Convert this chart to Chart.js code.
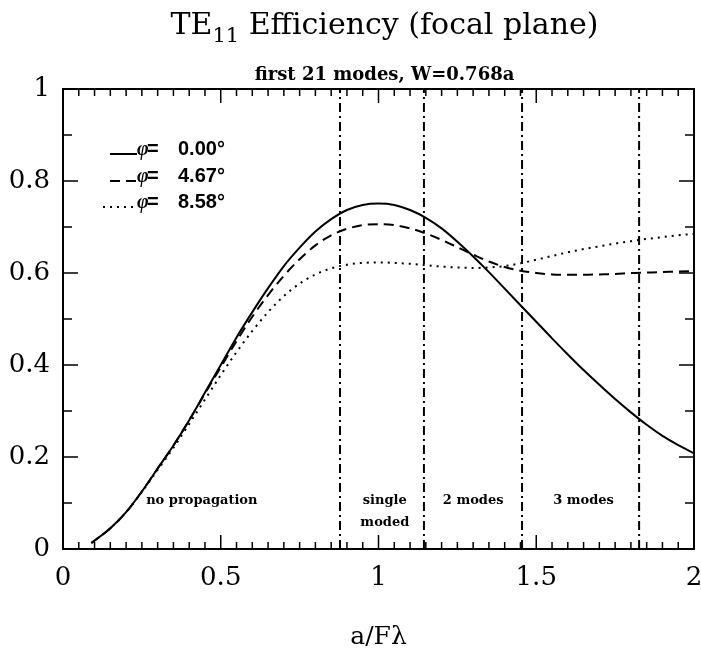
<!DOCTYPE html>
<html>
<head>
<meta charset="utf-8">
<script src="https://cdn.jsdelivr.net/npm/chart.js@4.4.0/dist/chart.umd.min.js"></script>
<style>
  html, body { margin: 0; padding: 0; background: #fff; }
</style>
</head>
<body>
<canvas id="te11-chart" width="701" height="653"></canvas>
<script>
// a/F lambda sample points
const xVals = [0.09, 0.15, 0.2, 0.25, 0.3, 0.35, 0.4, 0.45, 0.5, 0.55, 0.6, 0.65, 0.7, 0.75, 0.8,
  0.85, 0.9, 0.95, 1.0, 1.05, 1.1, 1.15, 1.2, 1.25, 1.3, 1.35, 1.4, 1.45, 1.5, 1.55, 1.6,
  1.65, 1.7, 1.75, 1.8, 1.85, 1.9, 1.95, 2.0];

// efficiency, phi = 0.00 deg (solid)
const phi000 = [0.013, 0.045, 0.08, 0.125, 0.175, 0.225, 0.28, 0.34, 0.40, 0.46, 0.515,
  0.567, 0.615, 0.655, 0.69, 0.717, 0.737, 0.748, 0.751, 0.748, 0.737, 0.72, 0.697, 0.668,
  0.636, 0.602, 0.566, 0.53, 0.494, 0.458, 0.423, 0.389, 0.357, 0.326, 0.297, 0.27, 0.246,
  0.226, 0.208];

// phi = 4.67 deg (dashed)
const phi467 = [0.013, 0.045, 0.08, 0.125, 0.175, 0.225, 0.28, 0.338, 0.395, 0.452, 0.505,
  0.552, 0.594, 0.63, 0.66, 0.682, 0.696, 0.704, 0.706, 0.704, 0.697, 0.686, 0.672, 0.656,
  0.64, 0.625, 0.613, 0.605, 0.6, 0.597, 0.596, 0.596, 0.597, 0.598, 0.6, 0.601, 0.602,
  0.603, 0.604];

// phi = 8.58 deg (dotted)
const phi858 = [0.013, 0.045, 0.08, 0.124, 0.172, 0.22, 0.272, 0.325, 0.378, 0.428, 0.474,
  0.515, 0.55, 0.577, 0.597, 0.61, 0.618, 0.622, 0.623, 0.622, 0.62, 0.617, 0.614, 0.612,
  0.611, 0.612, 0.615, 0.621, 0.629, 0.637, 0.645, 0.652, 0.658, 0.664, 0.669, 0.674,
  0.678, 0.682, 0.685];

const seriesNames = ["0.00°", "4.67°", "8.58°"];

// mode cutoffs (dash-dot lines)
const cutoffs = [0.878, 1.144, 1.455, 1.826];

// region labels
const regionText = [["no propagation"], ["single", "moded"], ["2 modes"], ["3 modes"]];
const regionX = [0.44, 1.02, 1.30, 1.65];
const regionY = 0.105;

const xTicks = [0, 0.5, 1, 1.5, 2];
const yTicks = [0, 0.2, 0.4, 0.6, 0.8, 1];

const serif = "'DejaVu Serif', 'Liberation Serif', serif";

function pts(ys) {
  return xVals.map((x, i) => ({ x: x, y: ys[i] }));
}

const styles = [[], [10, 6], [2, 5]];

const datasets = [phi000, phi467, phi858].map((ys, i) => ({
  label: seriesNames[i],
  data: pts(ys),
  borderColor: "#000",
  borderWidth: 2,
  borderDash: styles[i],
  pointRadius: 0,
  cubicInterpolationMode: "monotone",
}));

cutoffs.forEach(c => {
  datasets.push({
    label: "cutoff",
    data: [{ x: c, y: 0 }, { x: c, y: 1 }],
    borderColor: "#000",
    borderWidth: 2,
    borderDash: [9, 4, 2, 4],
    pointRadius: 0,
  });
});

// frame, inward ticks, titles, legend, region text
const decorations = {
  id: "decorations",
  afterDraw(chart) {
    const { ctx, chartArea: a, scales: { x, y } } = chart;
    ctx.save();
    ctx.strokeStyle = "#000";
    ctx.fillStyle = "#000";
    ctx.lineWidth = 2;
    ctx.setLineDash([]);
    ctx.strokeRect(a.left, a.top, a.right - a.left, a.bottom - a.top);

    ctx.lineWidth = 1.5;
    ctx.beginPath();
    for (let i = 0; i <= 40; i++) {
      const px = x.getPixelForValue(i * 0.05);
      const len = i % 10 === 0 ? 14 : 7;
      ctx.moveTo(px, a.bottom); ctx.lineTo(px, a.bottom - len);
      ctx.moveTo(px, a.top); ctx.lineTo(px, a.top + len);
    }
    for (let i = 0; i <= 10; i++) {
      const py = y.getPixelForValue(i * 0.1);
      const len = i % 2 === 0 ? 15 : 9;
      ctx.moveTo(a.left, py); ctx.lineTo(a.left + len, py);
      ctx.moveTo(a.right, py); ctx.lineTo(a.right - len, py);
    }
    ctx.stroke();

    // title with subscript
    const cx = (a.left + a.right) / 2 + 6;
    const t1 = "TE", sub = "11", t2 = " Efficiency (focal plane)";
    ctx.font = "30px " + serif;
    const w1 = ctx.measureText(t1).width, w2 = ctx.measureText(t2).width;
    ctx.font = "21px " + serif;
    const ws = ctx.measureText(sub).width;
    let tx = cx - (w1 + ws + w2) / 2;
    ctx.textBaseline = "alphabetic";
    ctx.textAlign = "left";
    ctx.font = "30px " + serif;
    ctx.fillText(t1, tx, 34);
    ctx.font = "21px " + serif;
    ctx.fillText(sub, tx + w1, 42);
    ctx.font = "30px " + serif;
    ctx.fillText(t2, tx + w1 + ws, 34);

    ctx.font = "bold 18px " + serif;
    ctx.textAlign = "center";
    ctx.fillText("first 21 modes, W=0.768a", cx, 80);

    // legend
    const rowsY = [155, 182, 208];
    ctx.lineWidth = 2;
    ctx.textAlign = "left";
    seriesNames.forEach((name, i) => {
      ctx.setLineDash(styles[i]);
      ctx.beginPath();
      ctx.moveTo(i === 2 ? 103 : 110, rowsY[i] - 1);
      ctx.lineTo(137, rowsY[i] - 1);
      ctx.stroke();
      ctx.setLineDash([]);
      ctx.font = "italic bold 20px 'Liberation Serif', serif";
      ctx.fillText("φ", 137, rowsY[i]);
      ctx.font = "bold 20px 'Liberation Sans', sans-serif";
      ctx.fillText("=", 147, rowsY[i]);
      ctx.fillText(name, 178, rowsY[i]);
    });

    // region labels
    ctx.font = "bold 13px " + serif;
    ctx.textAlign = "center";
    ctx.textBaseline = "middle";
    regionText.forEach((lines, i) => {
      const px = x.getPixelForValue(regionX[i]);
      const py = y.getPixelForValue(regionY);
      lines.forEach((s, k) => ctx.fillText(s, px, py + k * 22));
    });
    ctx.restore();
  }
};

new Chart(document.getElementById("te11-chart"), {
  type: "line",
  data: { datasets: datasets },
  options: {
    responsive: false,
    animation: false,
    layout: { padding: { top: 89, right: 7, left: 0, bottom: 0 } },
    plugins: { legend: { display: false }, tooltip: { enabled: false } },
    scales: {
      x: {
        type: "linear",
        min: 0, max: 2,
        afterFit: s => { s.height = 104; s.paddingLeft = 0; s.paddingRight = 0; },
        afterBuildTicks: s => { s.ticks = xTicks.map(v => ({ value: v })); },
        grid: { display: false, drawTicks: false },
        border: { display: false },
        ticks: {
          color: "#000", padding: 14, font: { family: serif, size: 26 },
          callback: v => String(v)
        },
        title: {
          display: true, text: "a/Fλ", color: "#000",
          font: { family: serif, size: 25 }, padding: { top: 0, bottom: 1 }
        }
      },
      y: {
        min: 0, max: 1,
        afterFit: s => { s.width = 63; s.paddingTop = 0; s.paddingBottom = 0; },
        afterBuildTicks: s => { s.ticks = yTicks.map(v => ({ value: v })); },
        grid: { display: false, drawTicks: false },
        border: { display: false },
        ticks: {
          color: "#000", padding: 13, font: { family: serif, size: 26 },
          callback: v => String(v)
        }
      }
    }
  },
  plugins: [decorations]
});
</script>
</body>
</html>
